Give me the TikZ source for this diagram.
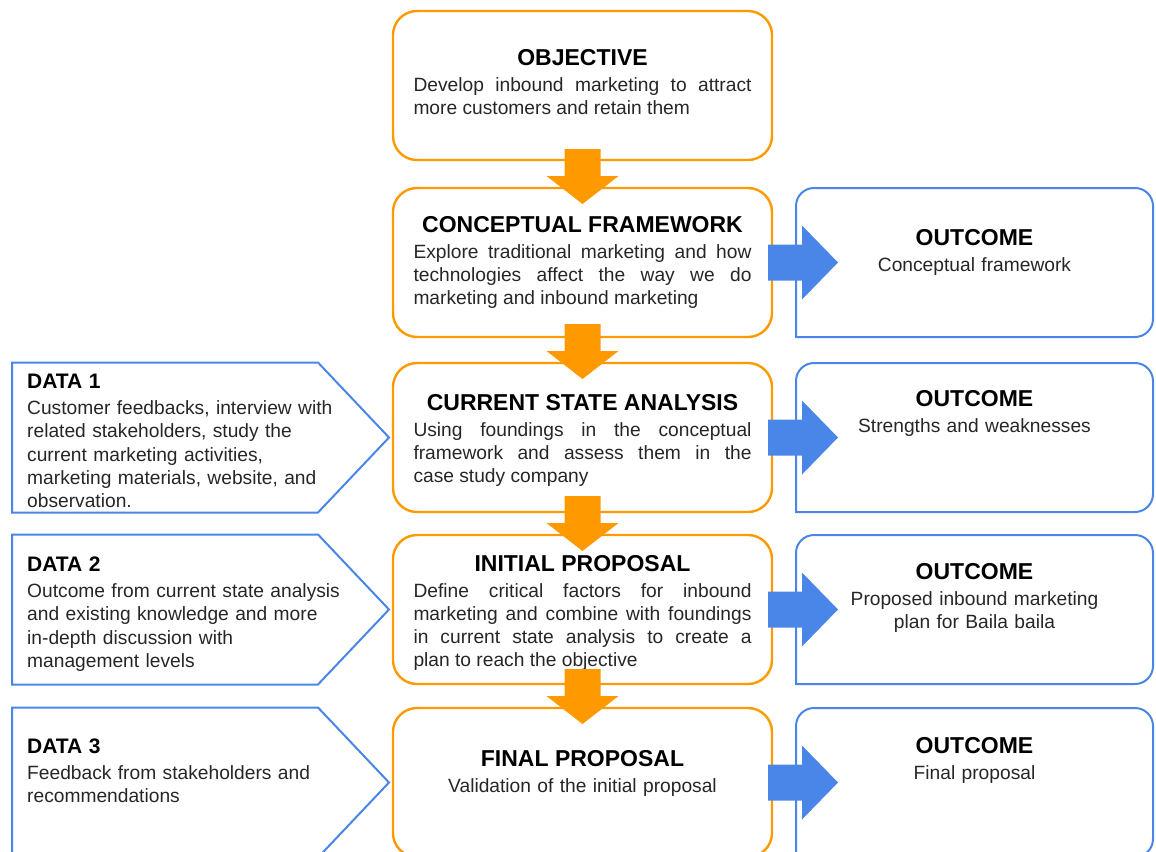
\documentclass[tikz,border=0pt]{standalone}
\usepackage{fontspec}
\setmainfont{Liberation Sans}
\usetikzlibrary{positioning,calc}

\definecolor{objorange}{HTML}{FF9900}
\definecolor{objblue}{HTML}{4A86E8}
\definecolor{bodygray}{HTML}{262626}

\newcommand{\stagetitle}[1]{{\centering\fontsize{23}{26}\selectfont\bfseries\color{black}#1\par}\vspace{2.5pt}}
\newcommand{\datatitle}[1]{{\fontsize{21}{24}\selectfont\bfseries\color{black}#1\par}\vspace{3pt}}

\begin{document}
\begin{tikzpicture}[x=1pt, y=-1pt,
  stage/.style={draw=objorange, line width=2.4pt, rounded corners=24pt, outer sep=0pt, minimum width=379pt, minimum height=149pt},
  outbox/.style={outer sep=0pt, minimum width=357pt, minimum height=149pt},
  databox/.style={outer sep=0pt, minimum width=306pt, minimum height=150pt},
  txt/.style={inner sep=0pt, text width=338pt, align=justify, text=bodygray, font=\fontsize{19.2}{23.3}\selectfont},
  downarrow/.pic={\fill[objorange] (-18,-27) -- (18,-27) -- (18,0) -- (36,0) -- (0,28) -- (-36,0) -- (-18,0) -- cycle;},
  rightarrow/.pic={\fill[objblue] (-4,-18) -- (30,-18) -- (30,-37) -- (66,0) -- (30,37) -- (30,18) -- (-4,18) -- cycle;}
]

\clip (0,0) rectangle (1156,851);

\node[stage] (obj) at (582.5,85.5) {};
\node[stage, below=28pt of obj] (concept) {};
\node[stage, below=26pt of concept] (current) {};
\node[stage, below=23pt of current] (initial) {};
\node[stage, below=24pt of initial] (final) {};

\node[outbox, right=24pt of concept] (out1) {};
\node[outbox, right=24pt of current] (out2) {};
\node[outbox, right=24pt of initial] (out3) {};
\node[outbox, right=24pt of final] (out4) {};

\node[databox, left=75pt of current] (data1) {};
\node[databox, left=75pt of initial] (data2) {};
\node[databox, left=75pt of final] (data3) {};

\foreach \n in {out1,out2,out3,out4}
  \draw[objblue, line width=2pt, rounded corners=18pt, line cap=rect] (\n.south west) -- (\n.north west) -- (\n.north east) -- (\n.south east) -- (\n.south west);

\foreach \n in {data1,data2,data3}
  \draw[objblue, line width=2pt] (\n.north west) -- (\n.north east) -- ($(\n.east)+(71,0)$) -- (\n.south east) -- (\n.south west) -- cycle;

\node[txt, below=38pt of obj.north] (objtext) {\stagetitle{OBJECTIVE}Develop inbound marketing to attract\linebreak more customers and retain them};
\node[txt, below=28pt of concept.north] (concepttext) {\stagetitle{CONCEPTUAL FRAMEWORK}Explore traditional marketing and how\linebreak technologies affect the way we do\linebreak marketing and inbound marketing};
\node[txt, below=31pt of current.north] (currenttext) {\stagetitle{CURRENT STATE ANALYSIS}Using foundings in the conceptual\linebreak framework and assess them in the\linebreak case study company};
\node[txt, below=20pt of initial.north] (initialtext) {\stagetitle{INITIAL PROPOSAL}Define critical factors for inbound\linebreak marketing and combine with foundings\linebreak in current state analysis to create a\linebreak plan to reach the objective};
\node[txt, align=center, below=42pt of final.north] (finaltext) {\stagetitle{FINAL PROPOSAL}Validation of the initial proposal};

\node[txt, text width=357pt, align=center, below=41pt of out1.north] (out1text) {\stagetitle{OUTCOME}Conceptual framework};
\node[txt, text width=357pt, align=center, below=27pt of out2.north] (out2text) {\stagetitle{OUTCOME}Strengths and weaknesses};
\node[txt, text width=357pt, align=center, below=28pt of out3.north] (out3text) {\stagetitle{OUTCOME}Proposed inbound marketing\\plan for Baila baila};
\node[txt, text width=357pt, align=center, below=29pt of out4.north] (out4text) {\stagetitle{OUTCOME}Final proposal};

\node[txt, text width=330pt, align=left, below right=11pt and 15pt of data1.north west] (data1text) {\datatitle{DATA 1}Customer feedbacks, interview with\\related stakeholders, study the\\current marketing activities,\\marketing materials, website, and\\observation.};
\node[txt, text width=330pt, align=left, below right=22pt and 15pt of data2.north west] (data2text) {\datatitle{DATA 2}Outcome from current state analysis\\and existing knowledge and more\\in-depth discussion with\\management levels};
\node[txt, text width=330pt, align=left, below right=31pt and 15pt of data3.north west] (data3text) {\datatitle{DATA 3}Feedback from stakeholders and\\recommendations};

\foreach \b in {concept,current,initial,final}
  \pic at ($(\b.north)+(0,-12)$) {downarrow};

\foreach \n in {concept,current,initial,final}
  \pic at (\n.east) {rightarrow};

\end{tikzpicture}
\end{document}
